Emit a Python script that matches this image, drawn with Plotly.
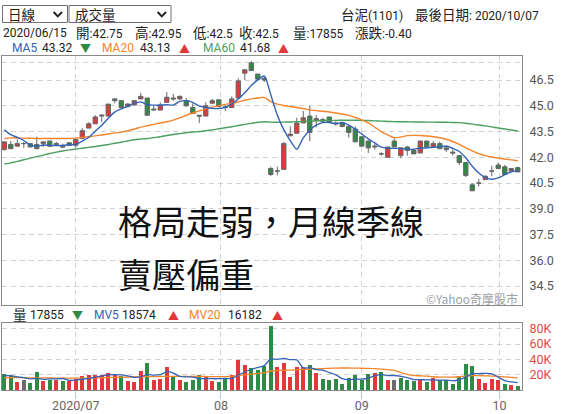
import plotly.graph_objects as go
from datetime import date

W, H = 567, 414
ML, MR, MT, MB = 2, 45, 56, 24
PX0, PX1, PY0, PY1 = ML, W - MR, MT, H - MB


def fx(px):
    return (px - PX0) / (PX1 - PX0)


def fy(py):
    return (PY1 - py) / (PY1 - PY0)


# ---------------- data ----------------
dates = [
    "06/12", "06/15", "06/16", "06/17", "06/18", "06/19", "06/22", "06/23", "06/24", "06/29", "06/30",
    "07/01", "07/02", "07/03", "07/06", "07/07", "07/08", "07/09", "07/10", "07/13", "07/14", "07/15",
    "07/16", "07/17", "07/20", "07/21", "07/22", "07/23", "07/24", "07/27", "07/28", "07/29", "07/30", "07/31",
    "08/03", "08/04", "08/05", "08/06", "08/07", "08/10", "08/11", "08/12", "08/13", "08/14", "08/17",
    "08/18", "08/19", "08/20", "08/21", "08/24", "08/25", "08/26", "08/27", "08/28", "08/31",
    "09/01", "09/02", "09/03", "09/04", "09/07", "09/08", "09/09", "09/10", "09/11", "09/14", "09/15",
    "09/16", "09/17", "09/18", "09/21", "09/22", "09/23", "09/24", "09/25", "09/28", "09/29", "09/30",
    "10/05", "10/06", "10/07",
]

opens = [42.45, 42.75, 42.65, 42.8, 42.8, 42.75, 42.8, 42.95, 42.75, 42.65, 42.85,
         42.7, 43.1, 43.7, 43.95, 44.4, 44.4, 45.4, 45.3, 44.95, 45.05, 45.4,
         45.45, 44.75, 44.75, 45.2, 45.45, 45.4, 45.3, 44.9, 44.45, 44.4, 45.15, 45.35,
         44.95, 44.9, 45.45, 46.9, 47.5, 46.85, 46.6, 41.35, 41.2, 41.3, 43.25,
         43.4, 44.0, 44.4, 44.15, 44.2, 44.35, 44.0, 44.0, 43.8, 43.65,
         43.2, 42.95, 42.6, 42.2, 42.0, 42.95, 42.1, 42.6, 42.4, 42.25, 42.95,
         42.6, 42.8, 42.55, 42.3, 42.1, 41.7, 40.4, 40.5, 40.7, 41.2, 41.55,
         41.45, 41.2, 41.4]
highs = [42.9, 42.95, 43.05, 42.9, 42.8, 43.2, 42.9, 42.95, 42.9, 42.8, 42.85,
         43.05, 43.7, 44.05, 44.45, 44.5, 45.1, 45.45, 45.3, 45.15, 45.3, 45.75,
         45.45, 45.0, 45.2, 45.8, 45.7, 45.6, 45.45, 45.15, 44.45, 45.2, 45.4, 45.35,
         45.1, 45.55, 46.6, 47.1, 47.6, 46.85, 46.7, 41.45, 41.45, 42.9, 43.8,
         44.3, 44.7, 45.0, 44.45, 44.3, 44.35, 44.1, 44.0, 43.8, 43.8,
         43.2, 42.95, 42.8, 42.3, 42.6, 43.1, 42.55, 42.65, 42.4, 42.95, 42.95,
         42.95, 42.9, 42.65, 42.45, 42.1, 41.7, 40.5, 40.75, 40.95, 41.5, 41.7,
         41.55, 41.35, 41.45]
lows = [42.4, 42.5, 42.65, 42.55, 42.6, 42.5, 42.6, 42.6, 42.7, 42.55, 42.65,
        42.55, 43.05, 43.7, 43.95, 44.05, 44.4, 45.15, 44.85, 44.95, 45.0, 45.4,
        44.45, 44.7, 44.75, 45.2, 45.3, 45.35, 44.95, 44.55, 44.0, 44.4, 45.1, 44.95,
        44.7, 44.9, 45.45, 46.5, 47.05, 46.5, 46.4, 40.9, 40.95, 41.3, 43.25,
        43.4, 44.0, 42.95, 43.75, 44.05, 44.05, 43.85, 43.75, 43.15, 42.9,
        42.65, 42.25, 42.45, 42.1, 42.0, 42.6, 41.95, 42.1, 42.2, 42.25, 42.6,
        42.6, 42.5, 42.3, 42.1, 41.55, 40.85, 40.05, 40.3, 40.7, 40.9, 41.3,
        41.0, 41.2, 41.15]
closes = [42.9, 42.5, 42.8, 42.8, 42.6, 42.5, 42.9, 42.65, 42.8, 42.6, 42.7,
          43.05, 43.55, 43.95, 44.35, 44.45, 45.1, 45.3, 44.9, 45.1, 45.3, 45.55,
          44.45, 44.8, 45.05, 45.5, 45.4, 45.55, 45.0, 44.55, 44.4, 45.0, 45.3, 44.95,
          44.9, 45.4, 46.45, 47.1, 47.05, 46.55, 46.5, 41.0, 41.2, 42.8, 43.35,
          44.0, 44.3, 43.45, 44.25, 44.1, 44.05, 43.95, 43.8, 43.45, 42.9,
          42.65, 42.55, 42.65, 42.2, 42.6, 42.6, 42.55, 42.4, 42.2, 42.95, 42.6,
          42.8, 42.5, 42.45, 42.25, 41.7, 40.95, 40.05, 40.5, 40.9, 41.2, 41.35,
          41.0, 41.35, 41.15]
prior_closes = [43.9, 43.6, 43.7, 43.9]  # 06/08-06/11, read from MA5 start

# volume in thousands (張)
volumes = [21.3, 17.855, 10.8, 13.4, 9.5, 23.9, 12.1, 13.4, 13.4, 12.1, 12.1,
           14.7, 17.8, 19.5, 19.5, 19.5, 22.6, 19.5, 17.8, 12.1, 10.8, 25.2,
           35.6, 13.4, 14.7, 30.4, 16.5, 13.4, 10.8, 13.4, 19.5, 17.8, 12.1, 10.8,
           14.7, 19.5, 39.5, 33.0, 28.7, 26.1, 31.7, 83.0, 30.4, 35.6, 17.4,
           30.4, 29.5, 33.0, 22.6, 14.7, 13.4, 14.7, 8.2, 15.2, 19.5,
           13.4, 21.3, 22.6, 23.9, 13.4, 13.4, 16.0, 13.4, 12.1, 13.4, 10.8,
           16.0, 11.2, 13.4, 8.2, 18.7, 34.4, 31.3, 14.7, 9.5, 14.7, 13.4,
           8.2, 6.5, 5.6]
prior_volumes = [18.0, 17.5, 18.2, 18.0]

ma20 = [43.10, 43.13, 43.12, 43.12, 43.11, 43.10, 43.10, 43.10, 43.10, 43.10, 43.10,
        43.12, 43.16, 43.20, 43.25, 43.30, 43.36, 43.42, 43.47, 43.55, 43.65, 43.76,
        43.84, 43.92, 44.00, 44.07, 44.17, 44.30, 44.45, 44.58, 44.70, 44.82, 44.92, 45.00,
        45.08, 45.14, 45.22, 45.32, 45.40, 45.45, 45.49, 45.25, 45.10, 45.02, 44.96,
        44.90, 44.84, 44.76, 44.72, 44.68, 44.64, 44.58, 44.52, 44.44, 44.32,
        44.18, 44.00, 43.75, 43.50, 43.30, 43.14, 43.18, 43.26, 43.28, 43.27, 43.24,
        43.20, 43.14, 43.05, 42.92, 42.75, 42.55, 42.38, 42.22, 42.10, 42.02, 41.95,
        41.90, 41.85, 41.80]
ma60 = [41.60, 41.68, 41.76, 41.86, 41.95, 42.04, 42.13, 42.22, 42.30, 42.37, 42.43,
        42.48, 42.53, 42.58, 42.63, 42.69, 42.75, 42.82, 42.88, 42.95, 43.02, 43.06,
        43.10, 43.15, 43.20, 43.27, 43.33, 43.38, 43.43, 43.47, 43.50, 43.55, 43.60, 43.66,
        43.72, 43.78, 43.85, 43.92, 43.98, 44.04, 44.07, 44.05, 44.04, 44.05, 44.06,
        44.07, 44.09, 44.11, 44.12, 44.14, 44.15, 44.15, 44.16, 44.16, 44.16,
        44.15, 44.14, 44.12, 44.11, 44.09, 44.08, 44.07, 44.07, 44.06, 44.06, 44.05,
        44.05, 44.04, 44.04, 44.03, 44.02, 43.98, 43.93, 43.88, 43.83, 43.77, 43.71,
        43.65, 43.59, 43.53]
mv20 = [16.2, 16.2, 16.1, 16.0, 15.9, 15.9, 15.8, 15.7, 15.6, 15.5, 15.4,
        15.4, 15.5, 15.6, 15.8, 16.0, 16.2, 16.5, 16.7, 16.9, 17.0, 17.2,
        17.5, 17.5, 17.6, 17.8, 17.8, 17.9, 17.8, 17.8, 17.7, 17.6, 17.5, 17.4,
        17.5, 17.8, 18.8, 19.8, 20.8, 21.5, 22.3, 24.8, 25.3, 25.8, 26.0,
        26.3, 26.8, 27.3, 27.6, 28.0, 28.3, 28.6, 28.7, 28.7, 28.6,
        28.4, 28.2, 27.8, 27.2, 26.5, 25.6, 23.0, 20.5, 19.0, 18.5, 18.0,
        17.3, 16.9, 16.9, 16.8, 17.3, 18.2, 18.7, 18.8, 18.5, 18.2, 17.8,
        17.2, 16.5, 15.8]

y_ticks = [46.5, 45.0, 43.5, 42.0, 40.5, 39.0, 37.5, 36.0, 34.5]
v_ticks = [20, 40, 60, 80]
month_starts = [date(2020, 7, 1), date(2020, 8, 1), date(2020, 9, 1), date(2020, 10, 1)]
month_labels = ["2020/07", "08", "09", "10"]

# ---------------- derived ----------------
n = len(dates)
idx = list(range(n))
ds = [date(2020, int(d[:2]), int(d[3:])) for d in dates]


def pos_of(d):
    for i in range(n - 1):
        if ds[i] <= d <= ds[i + 1]:
            return i + (d - ds[i]).days / (ds[i + 1] - ds[i]).days
    return n - 1


month_pos = [pos_of(d) for d in month_starts]

ext_c = prior_closes + closes
ma5 = [sum(ext_c[i:i + 5]) / 5 for i in range(n)]
ext_v = prior_volumes + volumes
mv5 = [sum(ext_v[i:i + 5]) / 5 for i in range(n)]

RED = "#e2383c"
GREEN = "#2f8a45"
GRAY = "#6b6b6b"
prevs = [prior_closes[-1]] + closes[:-1]
vcolors = [RED if c > p else (GREEN if c < p else GRAY) for c, p in zip(closes, prevs)]

C_MA5 = "#3463b5"
C_MA20 = "#f5842a"
C_MA60 = "#4b9f5f"

FONT = "Roboto, 'Noto Sans CJK TC'"
CJK = "Noto Sans CJK TC"

fig = go.Figure()
fig.add_trace(go.Candlestick(
    x=idx, open=opens, high=highs, low=lows, close=closes,
    increasing=dict(fillcolor=RED, line=dict(color="#666666", width=1)),
    decreasing=dict(fillcolor=GREEN, line=dict(color="#666666", width=1)),
    whiskerwidth=0, hoverinfo="skip", xaxis="x", yaxis="y", showlegend=False))
for vals, col in [(ma60, C_MA60), (ma20, C_MA20), (ma5, C_MA5)]:
    fig.add_trace(go.Scatter(x=idx, y=vals, mode="lines",
                             line=dict(color=col, width=1.4, shape="spline", smoothing=0.7),
                             hoverinfo="skip", xaxis="x", yaxis="y", showlegend=False))

fig.add_trace(go.Bar(x=idx, y=volumes, marker=dict(color=vcolors, line=dict(width=0)),
                     width=0.66, hoverinfo="skip", xaxis="x2", yaxis="y2", showlegend=False))
for vals, col in [(mv20, C_MA20), (mv5, C_MA5)]:
    fig.add_trace(go.Scatter(x=idx, y=vals, mode="lines",
                             line=dict(color=col, width=1.3, shape="spline", smoothing=0.7),
                             hoverinfo="skip", xaxis="x2", yaxis="y2", showlegend=False))

GRID = "#d2d2d2"
FRAME = "#8a8a8a"
xrange = [-0.35, 79.65]
common_x = dict(range=xrange, tickvals=month_pos, showgrid=True, gridcolor=GRID,
                griddash="5px,4px", gridwidth=1, showline=True, mirror=True,
                linecolor=FRAME, linewidth=1, zeroline=False, fixedrange=True)

fig.update_layout(
    width=W, height=H,
    margin=dict(l=ML, r=MR, t=MT, b=MB, pad=0, autoexpand=False),
    paper_bgcolor="white", plot_bgcolor="white",
    font=dict(family=FONT, size=12, color="#333"),
    boxgap=0.05, boxgroupgap=0.3,
    bargap=0,
    hovermode=False,
    xaxis=dict(domain=[0, 1], anchor="y", showticklabels=False, ticks="",
               rangeslider=dict(visible=False), **common_x),
    xaxis2=dict(domain=[0, 1], anchor="y2", matches="x", ticktext=month_labels,
                ticks="outside", ticklen=8, tickcolor="#b7c7d8", tickwidth=1,
                ticklabelstandoff=-4,
                tickfont=dict(color="#666", size=12.5, family=FONT), **common_x),
    yaxis=dict(domain=[fy(305), 1], range=[33.40, 47.90], side="right",
               tickvals=[47.55] + y_ticks, ticktext=[""] + ["%.1f" % v for v in y_ticks],
               showgrid=True, gridcolor=GRID, griddash="5px,4px", gridwidth=1,
               showline=True, mirror=True, linecolor=FRAME, linewidth=1,
               ticks="outside", ticklen=4, tickcolor="rgba(0,0,0,0)", fixedrange=True,
               tickfont=dict(color="#555", size=12.5, family=FONT), zeroline=False),
    yaxis2=dict(domain=[0, fy(322.5)], range=[0, 88.06], side="right",
                tickvals=v_ticks, ticktext=["%dK" % v for v in v_ticks],
                showgrid=True, gridcolor=GRID, griddash="5px,4px", gridwidth=1,
                showline=True, mirror=True, linecolor=FRAME, linewidth=1,
                ticks="outside", ticklen=4, tickcolor="rgba(0,0,0,0)", fixedrange=True,
                tickfont=dict(color="#e04848", size=12.5, family=FONT), zeroline=False),
)


def mix(s, cjk_size=13.5):
    """Wrap CJK runs in a slightly larger span (CJK glyphs are wider in the reference)."""
    out, run = [], ""
    for ch in s:
        if ord(ch) >= 0x3000:
            run += ch
        else:
            if run:
                out.append('<span style="font-size:%gpx">%s</span>' % (cjk_size, run))
                run = ""
            out.append(ch)
    if run:
        out.append('<span style="font-size:%gpx">%s</span>' % (cjk_size, run))
    return "".join(out)


ann = []


def txt(px, py, s, color="#222", size=12, anchor="left", family=FONT):
    ann.append(dict(x=fx(px), y=fy(py), xref="paper", yref="paper", text=mix(s), showarrow=False,
                    xanchor=anchor, yanchor="middle", borderpad=0,
                    font=dict(color=color, size=size, family=family)))


shapes = []


def rect(x0, y0, x1, y1):
    shapes.append(dict(type="rect", xref="paper", yref="paper", x0=fx(x0), x1=fx(x1),
                       y0=fy(y1), y1=fy(y0), line=dict(color="#707070", width=1),
                       fillcolor="white", layer="above"))


def chevron(cx):
    p = "M %f,%f L %f,%f L %f,%f" % (fx(cx - 4.2), fy(12), fx(cx), fy(16.4), fx(cx + 4.2), fy(12))
    shapes.append(dict(type="path", xref="paper", yref="paper", path=p,
                       line=dict(color="#222", width=2)))


rect(2.5, 5.5, 67.5, 22.5)
rect(69, 5.5, 171, 22.5)
chevron(57.8)
chevron(161.8)
txt(7, 14.5, "日線")
txt(74, 14.5, "成交量")

txt(340, 14.5, "台泥(1101)")
txt(414, 14.5, "最後日期: 2020/10/07")

txt(2, 33, "2020/06/15")
txt(75, 33, "開:42.75")
txt(134, 33, "高:42.95")
txt(192, 33, "低:42.5")
txt(238, 33, "收:42.5")
txt(292, 33, "量:17855")
txt(354, 33, "漲跌:-0.40")

txt(11, 48, "MA5", C_MA5)
txt(41, 48, "43.32")
txt(79, 48, "▼", GREEN, 11, family=CJK)
txt(101, 48, "MA20", C_MA20)
txt(139, 48, "43.13")
txt(178, 48, "▲", RED, 11, family=CJK)
txt(202, 48, "MA60", C_MA60)
txt(239, 48, "41.68")
txt(277, 48, "▲", RED, 11, family=CJK)

txt(12, 314.5, "量")
txt(29, 314.5, "17855")
txt(71, 314.5, "▼", GREEN, 11, family=CJK)
txt(93, 314.5, "MV5", C_MA5)
txt(121, 314.5, "18574")
txt(167, 314.5, "▲", RED, 11, family=CJK)
txt(188, 314.5, "MV20", C_MA20)
txt(227, 314.5, "16182")
txt(271, 314.5, "▲", RED, 11, family=CJK)

ann.append(dict(x=fx(520), y=fy(298), xref="paper", yref="paper", text="©Yahoo奇摩股市",
                showarrow=False, xanchor="right", yanchor="middle",
                font=dict(color="#a0a0a0", size=12, family=CJK)))

for py, s in [(220, "格局走弱，月線季線"), (273, "賣壓偏重")]:
    ann.append(dict(x=fx(116), y=fy(py), xref="paper", yref="paper", text=s,
                    showarrow=False, xanchor="left", yanchor="middle",
                    font=dict(color="#111", size=34, family=CJK)))

fig.update_layout(annotations=ann, shapes=shapes)
fig.write_html("out.html", config={"displayModeBar": False, "staticPlot": True},
               post_script="document.body.style.margin='0';document.body.style.padding='0';")
